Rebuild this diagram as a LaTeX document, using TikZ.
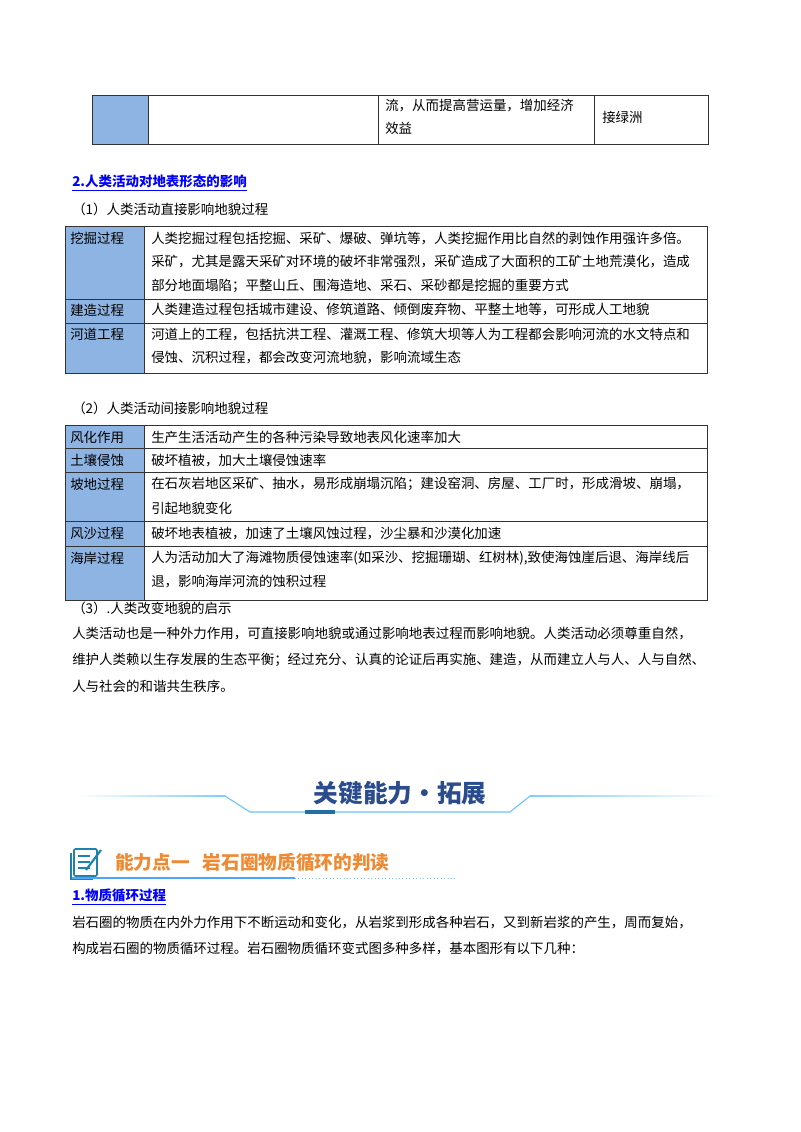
\documentclass[tikz,border=0pt]{standalone}
\usepackage{fontspec}
\setmainfont{Noto Sans CJK SC}
\newfontfamily\cjkb[BoldFont={Noto Sans CJK SC Bold}]{Noto Sans CJK SC}
\begin{document}
\begin{tikzpicture}[x=0.75pt,y=-0.75pt,
  t/.style={anchor=west,inner sep=0pt,font=\fontsize{10.1}{12}\selectfont},
  hd/.style={anchor=west,inner sep=0pt,font=\fontsize{10.1}{12}\selectfont\bfseries,text=blue},
  cell/.style={draw=black!80,line width=0.6pt},
  hcell/.style={cell,fill=blue!45!cyan!35!white,fill=cyan!10!blue!40},
]
\definecolor{hb}{HTML}{8EB4E3}
\definecolor{tb}{HTML}{2B4C8C}
\definecolor{org}{HTML}{EE8A34}
\useasboundingbox (0,0) rectangle (800,1132);
% top table
\draw[cell,fill=hb] (92,95) rectangle (148,144);
\draw[cell] (148,95) rectangle (378,144);
\draw[cell] (378,95) rectangle (594,144);
\draw[cell] (594,95) rectangle (708,144);
\node[t] (a1) at (385,106) {流，从而提高营运量，增加经济};
\node[t] (a2) at (385,128) {效益};
\node[t] (a3) at (602,117) {接绿洲};
% heading 2
\node[hd] (h2) at (72,183) {\underline{2.人类活动对地表形态的影响}};
\node[t] (s1) at (72,209) {（1）人类活动直接影响地貌过程};
% table 1
\foreach \ya/\yb in {226/299,299/323,323/373}{
  \draw[cell,fill=hb] (65,\ya) rectangle (144,\yb);
  \draw[cell] (144,\ya) rectangle (707,\yb);}
\node[t] (k1) at (70,238) {挖掘过程};
\node[t] (k2) at (70,310) {建造过程};
\node[t] (k3) at (70,334) {河道工程};
\node[t] (r11) at (151,238) {人类挖掘过程包括挖掘、采矿、爆破、弹坑等，人类挖掘作用比自然的剥蚀作用强许多倍。};
\node[t] (r12) at (151,262) {采矿，尤其是露天采矿对环境的破坏非常强烈，采矿造成了大面积的工矿土地荒漠化，造成};
\node[t] (r13) at (151,286) {部分地面塌陷；平整山丘、围海造地、采石、采砂都是挖掘的重要方式};
\node[t] (r21) at (151,310) {人类建造过程包括城市建设、修筑道路、倾倒废弃物、平整土地等，可形成人工地貌};
\node[t] (r31) at (151,334) {河道上的工程，包括抗洪工程、灌溉工程、修筑大坝等人为工程都会影响河流的水文特点和};
\node[t] (r32) at (151,357) {侵蚀、沉积过程，都会改变河流地貌，影响流域生态};
% (2)
\node[t] (s2) at (72,408) {（2）人类活动间接影响地貌过程};
\foreach \ya/\yb in {425/448,448/472,472/521,521/546,546/600}{
  \draw[cell,fill=hb] (65,\ya) rectangle (144,\yb);
  \draw[cell] (144,\ya) rectangle (707,\yb);}
\node[t] (m1) at (70,437) {风化作用};
\node[t] (m2) at (70,460) {土壤侵蚀};
\node[t] (m3) at (70,484) {坡地过程};
\node[t] (m4) at (70,533) {风沙过程};
\node[t] (m5) at (70,558) {海岸过程};
\node[t] (n1) at (151,437) {生产生活活动产生的各种污染导致地表风化速率加大};
\node[t] (n2) at (151,460) {破坏植被，加大土壤侵蚀速率};
\node[t] (n3) at (151,484) {在石灰岩地区采矿、抽水，易形成崩塌沉陷；建设窑洞、房屋、工厂时，形成滑坡、崩塌，};
\node[t] (n3b) at (151,508) {引起地貌变化};
\node[t] (n4) at (151,533) {破坏地表植被，加速了土壤风蚀过程，沙尘暴和沙漠化加速};
\node[t] (n5) at (151,558) {人为活动加大了海滩物质侵蚀速率(如采沙、挖掘珊瑚、红树林),致使海蚀崖后退、海岸线后};
\node[t] (n5b) at (151,582) {退，影响海岸河流的蚀积过程};
\node[t] (s3) at (72,608) {（3）.人类改变地貌的启示};
\node[t] (p1) at (72,634) {人类活动也是一种外力作用，可直接影响地貌或通过影响地表过程而影响地貌。人类活动必须尊重自然，};
\node[t] (p2) at (72,660) {维护人类赖以生存发展的生态平衡；经过充分、认真的论证后再实施、建造，从而建立人与人、人与自然、};
\node[t] (p3) at (72,686) {人与社会的和谐共生秩序。};
% banner
\shade[left color=white,right color=blue!40!cyan!50] (75,795.5) rectangle (225,796.5);
\shade[right color=white,left color=blue!40!cyan!50] (530,795.5) rectangle (725,796.5);
\draw[blue!40!cyan!60,line width=0.8pt] (225,796) -- (250,812) -- (510,812) -- (530,796);
\fill[tb!80!cyan] (305,810) rectangle (335,813.5);
\node[inner sep=0pt,font=\fontsize{18.5}{20}\selectfont\bfseries,text=tb] (ban) at (400,793) {关键能力·拓展};
% icon
\draw[tb!70!cyan,line width=1.2pt,rounded corners=1pt] (74,849) rectangle (97,876);
\draw[tb!70!cyan,line width=0.8pt] (71,853) -- (71,879) -- (93,879);
\foreach \yy in {856,862,868}{\draw[tb!70!cyan,line width=0.9pt] (78,\yy) -- (90,\yy);}
\draw[tb!70!cyan,line width=1.6pt] (86,870) -- (101,850);
\node[inner sep=0pt,anchor=west,font=\fontsize{14}{16}\selectfont\bfseries,text=org] (cap) at (115,862) {能力点一\hspace{0.7em}岩石圈物质循环的判读};
\draw[blue!50!cyan!70,line width=0.8pt] (72,878) -- (295,878);
\draw[blue!50!cyan!50,line width=0.6pt,dotted] (295,878) -- (455,878);
\node[hd] (h3) at (72,897) {\underline{1.物质循环过程}};
\node[t] (q1) at (72,922) {岩石圈的物质在内外力作用下不断运动和变化，从岩浆到形成各种岩石，又到新岩浆的产生，周而复始，};
\node[t] (q2) at (72,948) {构成岩石圈的物质循环过程。岩石圈物质循环变式图多种多样，基本图形有以下几种：};
\end{tikzpicture}
\end{document}
